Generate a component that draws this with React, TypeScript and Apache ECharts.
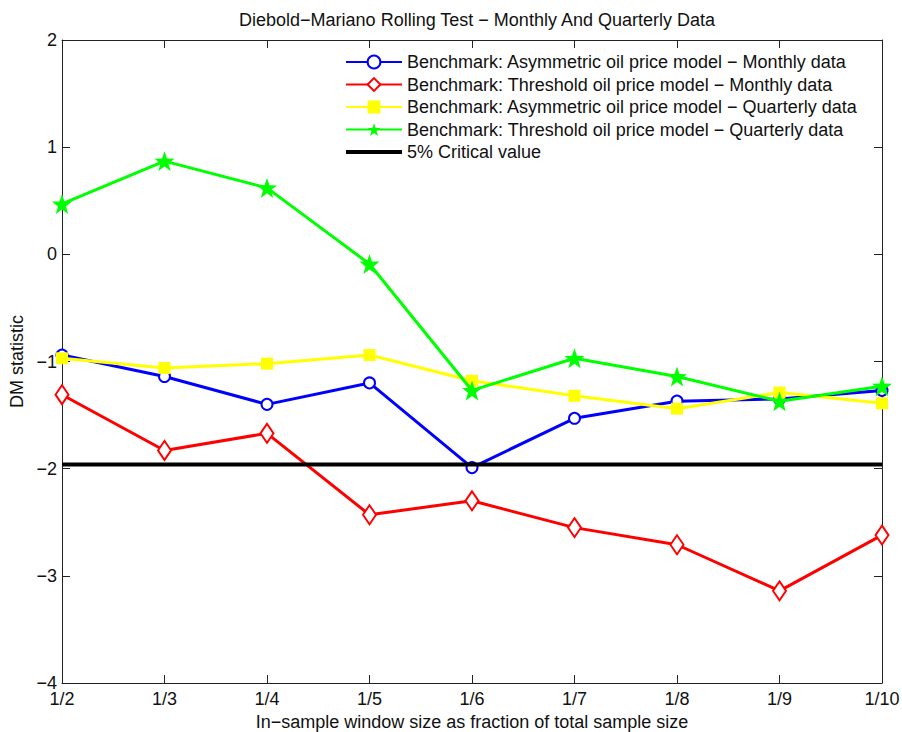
import React, { useEffect, useRef } from "react";
import * as echarts from "echarts";

const categories = ["1/2", "1/3", "1/4", "1/5", "1/6", "1/7", "1/8", "1/9", "1/10"];
const asymMonthly = [-0.94, -1.14, -1.40, -1.20, -1.99, -1.53, -1.37, -1.35, -1.27];
const threshMonthly = [-1.31, -1.83, -1.67, -2.43, -2.30, -2.55, -2.71, -3.14, -2.62];
const asymQuarterly = [-0.97, -1.06, -1.02, -0.94, -1.18, -1.32, -1.44, -1.29, -1.39];
const threshQuarterly = [0.47, 0.87, 0.62, -0.09, -1.27, -0.97, -1.14, -1.37, -1.23];
const criticalValue = -1.96;
const yTicks = [-4, -3, -2, -1, 0, 1, 2];

const names = [
  "Benchmark: Asymmetric oil price model \u2212 Monthly data",
  "Benchmark: Threshold oil price model \u2212 Monthly data",
  "Benchmark: Asymmetric oil price model \u2212 Quarterly data",
  "Benchmark: Threshold oil price model \u2212 Quarterly data",
  "5% Critical value",
];

const STAR =
  "path://M0,-10 L2.35,-3.24 L9.51,-3.09 L3.8,1.24 L5.88,8.09 L0,4 L-5.88,8.09 L-3.8,1.24 L-9.51,-3.09 L-2.35,-3.24 Z";
const BAR = "path://M0,0 L56,0 L56,4 L0,4 Z";

const FONT = "Liberation Sans, Arial, sans-serif";

export default function App() {
  const ref = useRef<HTMLDivElement>(null);
  useEffect(() => {
    if (!ref.current) return;
    const chart = echarts.init(ref.current, undefined, { renderer: "svg" });
    const axisLine = { show: true, onZero: false, lineStyle: { color: "#222", width: 1 } };
    const tickStyle = { show: true, inside: true, length: 8, lineStyle: { color: "#222" } };
    chart.setOption({
      animation: false,
      backgroundColor: "#fff",
      textStyle: { fontFamily: FONT },
      title: {
        text: "Diebold\u2212Mariano Rolling Test \u2212 Monthly And Quarterly Data",
        left: 472,
        textAlign: "center",
        top: 6,
        textStyle: { fontSize: 18, fontWeight: "normal", color: "#111", fontFamily: FONT },
      },
      legend: {
        orient: "vertical",
        left: 343,
        top: 51,
        itemWidth: 56,
        itemHeight: 16,
        itemGap: 4.5,
        backgroundColor: "#fff",
        padding: [2, 6, 2, 2],
        textStyle: { fontSize: 18, color: "#111", fontFamily: FONT, padding: [0, 0, 0, 0] },
        data: [names[0], names[1], names[2], names[3], { name: names[4], icon: BAR }],
      },
      grid: {
        left: 62,
        right: 20,
        top: 40,
        bottom: 49,
        containLabel: false,
        outerBoundsMode: "none",
      },
      xAxis: [
        {
          type: "category",
          data: categories,
          boundaryGap: false,
          position: "bottom",
          name: "In\u2212sample window size as fraction of total sample size",
          nameLocation: "middle",
          nameGap: 27,
          nameTextStyle: { fontSize: 18, color: "#111", fontFamily: FONT },
          axisLine,
          axisTick: { ...tickStyle, alignWithLabel: true },
          axisLabel: { fontSize: 18, color: "#111", margin: 7, fontFamily: FONT },
          splitLine: { show: false },
        },
        {
          type: "category",
          data: categories,
          boundaryGap: false,
          position: "top",
          axisLine,
          axisTick: tickStyle,
          axisLabel: { show: false },
          splitLine: { show: false },
        },
      ],
      yAxis: [
        {
          type: "value",
          min: -4,
          max: 2,
          interval: 1,
          position: "left",
          name: "DM statistic",
          nameLocation: "middle",
          nameGap: 31,
          nameTextStyle: { fontSize: 18, color: "#111", fontFamily: FONT },
          axisLine,
          axisTick: tickStyle,
          axisLabel: {
            fontSize: 18,
            color: "#111",
            margin: 5,
            fontFamily: FONT,
            formatter: (v: number) => (yTicks.includes(v) ? String(v).replace("-", "\u2212") : ""),
          },
          splitLine: { show: false },
        },
        {
          type: "value",
          min: -4,
          max: 2,
          interval: 1,
          position: "right",
          axisLine,
          axisTick: tickStyle,
          axisLabel: { show: false },
          splitLine: { show: false },
        },
      ],
      series: [
        {
          name: names[0],
          type: "line",
          data: asymMonthly,
          color: "#0000ff",
          lineStyle: { width: 3, color: "#0000ff" },
          symbol: "emptyCircle",
          symbolSize: 11,
          itemStyle: { color: "#0000ff", borderColor: "#0000ff", borderWidth: 2.5 },
          z: 2,
        },
        {
          name: names[1],
          type: "line",
          data: threshMonthly,
          color: "#ff0000",
          lineStyle: { width: 3, color: "#ff0000" },
          symbol: "emptyDiamond",
          symbolSize: [13, 19],
          itemStyle: { color: "#ff0000", borderColor: "#ff0000", borderWidth: 2.5 },
          z: 2,
        },
        {
          name: names[2],
          type: "line",
          data: asymQuarterly,
          color: "#ffff00",
          lineStyle: { width: 3, color: "#ffff00" },
          symbol: "rect",
          symbolSize: 12,
          itemStyle: { color: "#ffff00" },
          z: 3,
        },
        {
          name: names[3],
          type: "line",
          data: threshQuarterly,
          color: "#00ff00",
          lineStyle: { width: 3, color: "#00ff00" },
          symbol: STAR,
          symbolSize: 20,
          itemStyle: { color: "#00ff00" },
          z: 4,
        },
        {
          name: names[4],
          type: "line",
          data: categories.map(() => criticalValue),
          color: "#000",
          lineStyle: { width: 4, color: "#000" },
          itemStyle: { color: "#000" },
          symbol: "none",
          z: 5,
        },
      ],
    });
    return () => chart.dispose();
  }, []);
  return (
    <div
      ref={ref}
      style={{ position: "fixed", left: 0, top: 0, width: 902, height: 732, background: "#fff" }}
    />
  );
}
